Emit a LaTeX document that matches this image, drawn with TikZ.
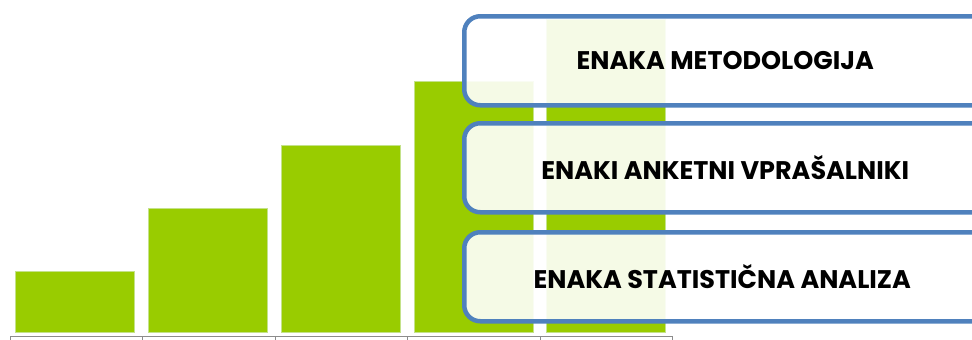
\documentclass[tikz,border=0pt]{standalone}
\usepackage{fontspec}
\setmainfont{Poppins}
\definecolor{bargreen}{HTML}{99CC00}
\definecolor{barline}{HTML}{C4E28A}
\definecolor{boxblue}{HTML}{4F81BD}
\definecolor{axisgray}{HTML}{8C8C8C}
\tikzset{
  bar/.style={fill=bargreen, draw=barline, line width=1.2pt, inner sep=0pt, anchor=south west, minimum width=119pt},
  infobox/.style={draw=boxblue, line width=4.5pt, rounded corners=16pt, fill=white, fill opacity=0.9, text opacity=1,
     minimum width=530pt, minimum height=89pt, anchor=north west, inner sep=0pt,
     font=\fontsize{25.5}{28}\selectfont\bfseries, text=black},
}
\begin{document}
\begin{tikzpicture}[x=1pt,y=-1pt]
\useasboundingbox (0,0) rectangle (972,340);
\clip (0,0) rectangle (972,340);
% bars
\node[bar, minimum height=61pt]  (b1) at (15,333) {};
\node[bar, minimum height=124pt] (b2) at (148,333) {};
\node[bar, minimum height=187pt] (b3) at (281,333) {};
\node[bar, minimum height=251pt] (b4) at (413.5,333) {};
\node[bar, minimum height=313pt] (b5) at (546,333) {};
% axis
\coordinate (a0) at (10,336);
\coordinate (a5) at (672,336);
\draw[axisgray, line width=1pt] (a0) -- (a5);
\foreach \x in {10,142.5,275,407.5,540,672}{
  \draw[axisgray, line width=1pt] (\x,336) -- (\x,341);
}
% boxes
\node[infobox] (m1) at (462,14) {\hspace*{-8pt}ENAKA METODOLOGIJA};
\node[infobox] (m2) at (462,121) {\hspace*{-8pt}ENAKI ANKETNI VPRAŠALNIKI};
\node[infobox] (m3) at (462,230) {\hspace*{-14pt}ENAKA STATISTIČNA ANALIZA};
\end{tikzpicture}
\end{document}
